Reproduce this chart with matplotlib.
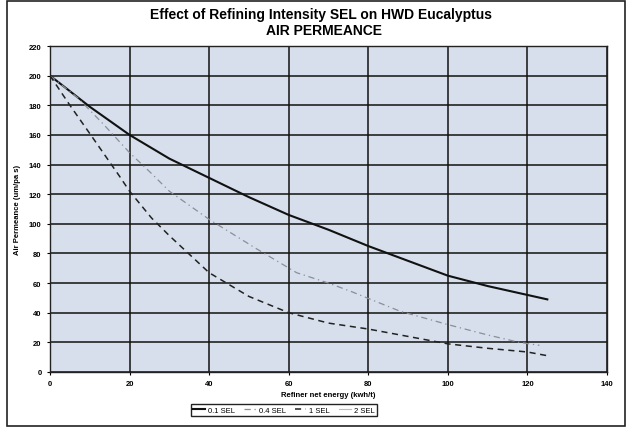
#!/usr/bin/env python3
"""Air permeance vs refiner net energy for HWD eucalyptus at several SEL levels."""

import matplotlib

matplotlib.use("Agg")
import matplotlib.pyplot as plt
from matplotlib.patches import Rectangle

plt.rcParams["font.family"] = ["Liberation Sans", "DejaVu Sans"]

# 0.1 SEL (solid)
energy_01 = [0, 10, 20, 30, 40, 50, 60, 70, 80, 90, 100, 110, 120, 125]
perm_01 = [200, 179, 160, 144, 131, 118, 106, 96, 85, 75, 65, 58, 52, 49]

# 0.4 SEL (light dash-dot)
energy_04 = [0, 7, 13.5, 20, 25.5, 30, 40, 52, 62, 70, 76, 88, 100, 110, 118, 123]
perm_04 = [200, 185, 167, 148, 134, 122, 103, 83, 67, 60, 54, 41, 32, 25, 20, 18]

# 1 SEL (dashed)
energy_1 = [0, 5, 10.5, 17.5, 20, 25.5, 30, 40, 50, 60, 70, 80, 88, 96, 100, 110, 120, 125]
perm_1 = [200, 180, 159, 132, 122, 104, 92, 67, 51, 40, 33, 29, 25, 21, 19, 16, 13.5, 11]

# 2 SEL: not legible in the scan, kept as legend entry only
energy_2 = []
perm_2 = []

x_ticks = [0, 20, 40, 60, 80, 100, 120, 140]
y_ticks = list(range(0, 221, 20))

fig = plt.figure(figsize=(6.29, 4.35), dpi=100)
fig.patches.append(
    Rectangle((7 / 629, 1 - 427 / 435), 618 / 629, 425 / 435,
              transform=fig.transFigure, fill=False, edgecolor="#222222",
              linewidth=1.2)
)
ax = fig.add_axes([50 / 629, 1 - 373 / 435, 557 / 629, 326 / 435])
ax.set_facecolor("#d6dfeb")

ax.plot(energy_01, perm_01, color="#111111", linewidth=1.5, label="0.1 SEL")
ax.plot(energy_04, perm_04, color="#8a8f98", linewidth=0.9,
        linestyle=(0, (5, 3, 1, 3)), label="0.4 SEL")
ax.plot(energy_1, perm_1, color="#222222", linewidth=1.1,
        linestyle=(0, (4, 3)), label="1 SEL")
ax.plot(energy_2, perm_2, color="#b8bec8", linewidth=0.8, label="2 SEL")

ax.set_xlim(0, 140)
ax.set_ylim(0, 220)
ax.set_xticks(x_ticks)
ax.set_yticks(y_ticks)
ax.grid(True, color="#111111", linewidth=1.1)
ax.set_axisbelow(True)
for spine in ax.spines.values():
    spine.set_color("#222222")
    spine.set_linewidth(1.0)
ax.tick_params(labelsize=5.5, length=2, width=0.8, pad=4)
for label in ax.get_xticklabels() + ax.get_yticklabels():
    label.set_fontweight("bold")

ax.set_xlabel("Refiner net energy (kwh/t)", fontsize=5.5, fontweight="bold",
              labelpad=3)
ax.set_ylabel("Air Permeance (um/pa s)", fontsize=5.5, fontweight="bold",
              labelpad=6)

fig.text(0.51, 1 - 15 / 435, "Effect of Refining Intensity SEL on HWD Eucalyptus",
         ha="center", va="center", fontsize=10, fontweight="bold")
fig.text(0.515, 1 - 31 / 435, "AIR PERMEANCE", ha="center", va="center",
         fontsize=10, fontweight="bold")

ax.legend(loc="upper center", bbox_to_anchor=(0.42, -0.085), ncol=4,
          fontsize=5.5, frameon=True, fancybox=False, edgecolor="#222222",
          handlelength=1.5, handletextpad=0.4, columnspacing=1.2,
          borderpad=0.35, framealpha=1)

fig.savefig("out.png", dpi=100)
